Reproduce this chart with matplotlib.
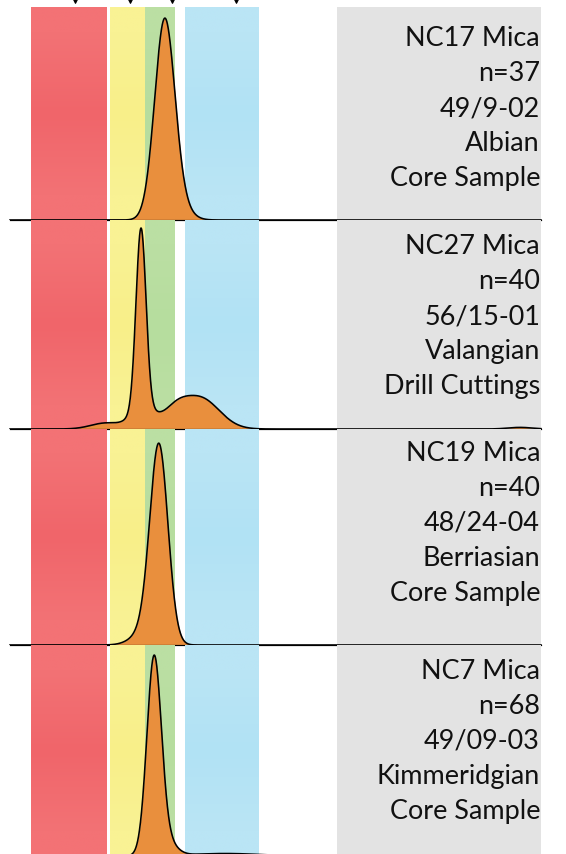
import matplotlib
matplotlib.use("Agg")
import matplotlib.pyplot as plt
import matplotlib.transforms as mtransforms
from matplotlib.colors import to_rgb
import numpy as np

# age axis (Ma) and the shaded age windows
age_min, age_max = 0, 1132
band_edges = [(62, 214), (220, 290), (290, 350), (370, 518)]
band_light = ["#F37275", "#F9F294", "#BBDFA3", "#BAE5F5"]
band_dark = ["#F0656A", "#F8EF89", "#B6DD9E", "#B1E2F4"]
label_box = (674, 1082)
event_ages = [150, 260, 344, 472]

# sample labels
labels = [
    ["NC17 Mica", "n=37", "49/9-02", "Albian", "Core Sample"],
    ["NC27 Mica", "n=40", "56/15-01", "Valangian", "Drill Cuttings"],
    ["NC19 Mica", "n=40", "48/24-04", "Berriasian", "Core Sample"],
    ["NC7 Mica", "n=68", "49/09-03", "Kimmeridgian", "Core Sample"],
]

# density peaks: (centre Ma, width Ma, relative height)
peaks_nc17 = [(329, 20, 1.0), (352, 24, 0.08)]
peaks_nc27 = [(282, 10, 0.9), (286, 24, 0.1), (350, 24, 0.07),
              (400, 38, 0.155), (212, 30, 0.03), (1040, 24, 0.008)]
peaks_nc19 = [(318, 18, 1.0), (292, 26, 0.07)]
peaks_nc7 = [(308, 14.4, 1.0), (330, 20, 0.08), (450, 70, 0.013)]
all_peaks = [peaks_nc17, peaks_nc27, peaks_nc19, peaks_nc7]

# layout, in pixels of the 566x854 figure (dpi 72, so 1 pt = 1 px)
W, H = 566, 854
panel_px = [(7, 220), (220, 429), (429, 645), (645, 856)]
panel_ytop = [1.055, 1.04, 1.07, 1.05]
first_line = [39, 34, 32, 34]
line_step = 35

orange = "#E98F3D"

fig = plt.figure(figsize=(W / 72, H / 72), dpi=72)

x = np.linspace(20, 1082, 3000)
t = np.linspace(0, 1, 64)
mix = np.clip(1 - np.abs(2 * t - 1) * 1.3, 0, 1)[:, None]

for i in range(4):
    top, bot = panel_px[i]
    ax = fig.add_axes([0, 1 - bot / H, 1, (bot - top) / H])

    for (a0, a1), cl, cd in zip(band_edges, band_light, band_dark):
        grad = (1 - mix) * np.array(to_rgb(cl)) + mix * np.array(to_rgb(cd))
        ax.imshow(grad[:, None, :], extent=(a0, a1, 0, panel_ytop[i]),
                  aspect="auto", interpolation="bilinear", zorder=1)
    ax.axvspan(label_box[0], label_box[1], color="#E3E3E3", lw=0, zorder=1)

    y = np.zeros_like(x)
    for c, s, h in all_peaks[i]:
        y += h * np.exp(-(x - c) ** 2 / (2 * s ** 2))
    y /= y.max()
    ax.fill_between(x, 0, y, color=orange, lw=0, zorder=3)
    ax.plot(x, y, color="black", lw=1.6, zorder=4)
    ax.plot([20, 1082], [0, 0], color="black", lw=1.2, zorder=5, clip_on=False)

    ax.set_xlim(age_min, age_max)
    ax.set_ylim(0, panel_ytop[i])
    ax.axis("off")

    for j, line in enumerate(labels[i]):
        ax.annotate(line, xy=(1080, 1), xycoords=("data", "axes fraction"),
                    xytext=(0, -(first_line[i] + j * line_step)),
                    textcoords="offset points", ha="right", va="baseline",
                    fontsize=27, family=["Lato", "DejaVu Sans"], color="#111111",
                    zorder=6)

    if i == 0:
        trans = mtransforms.blended_transform_factory(ax.transData, fig.transFigure)
        ax.plot(event_ages, [1 + 1.5 / H] * len(event_ages), "v", color="black",
                ms=8, transform=trans, clip_on=False, zorder=6)

fig.savefig("out.png", dpi=72)
